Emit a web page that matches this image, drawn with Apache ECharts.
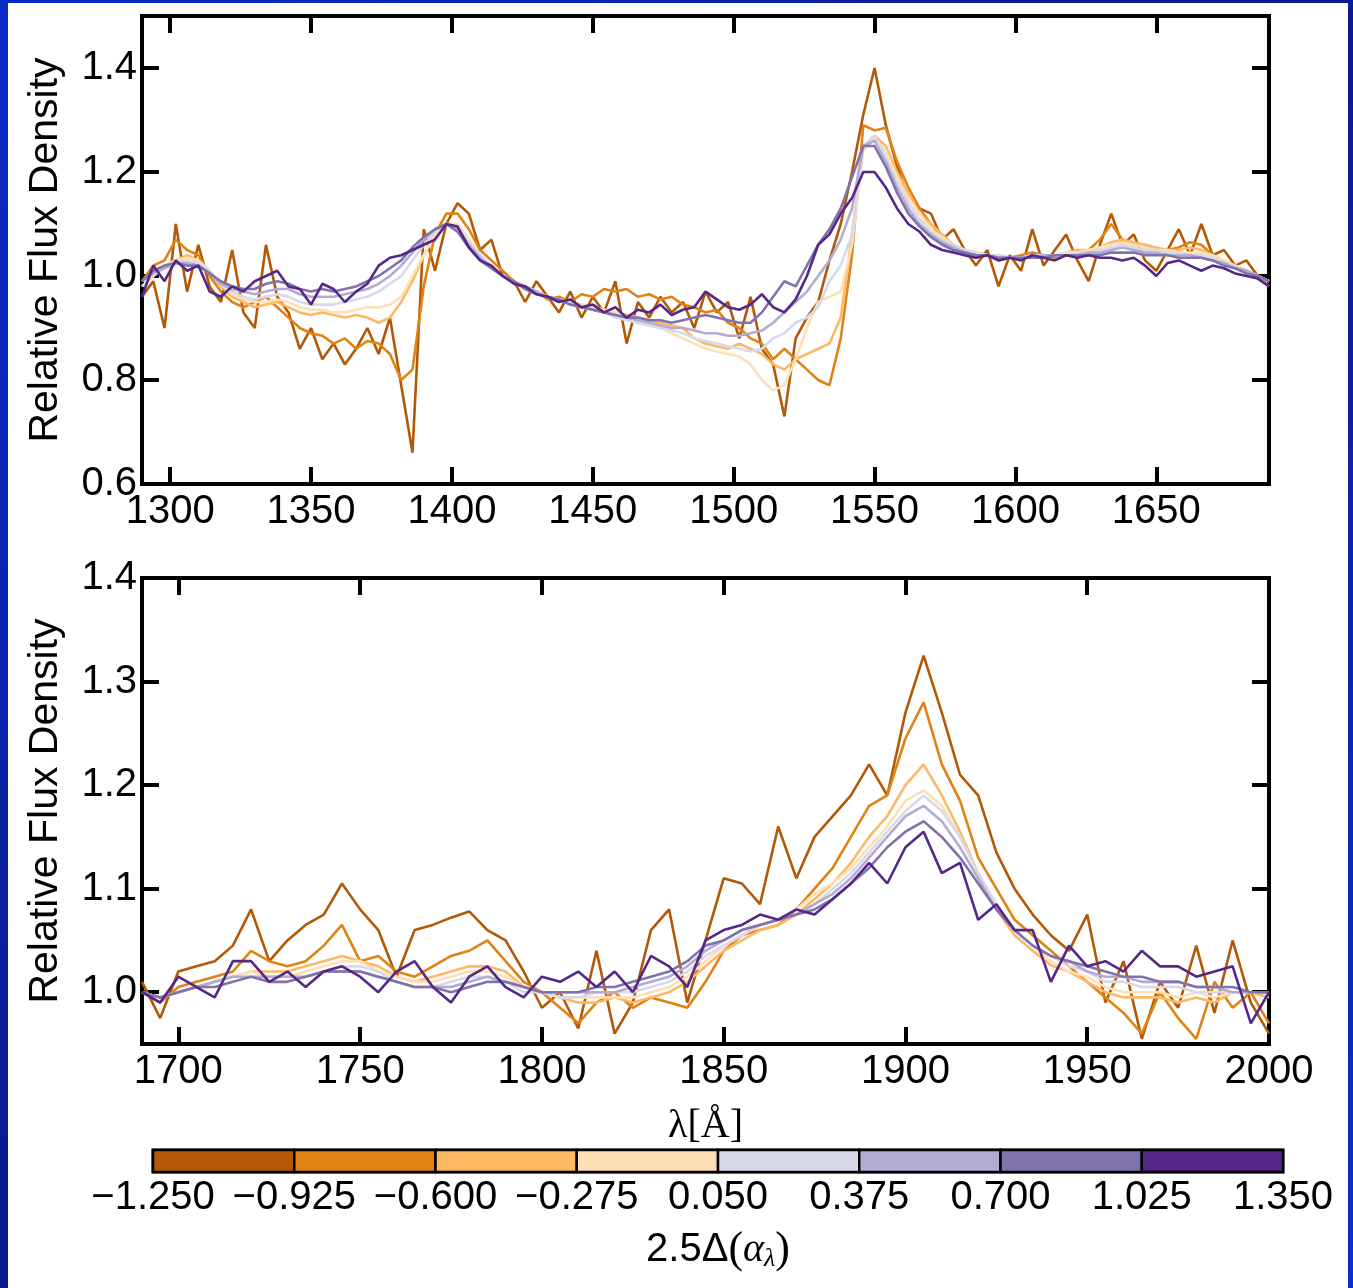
<!DOCTYPE html>
<html><head><meta charset="utf-8">
<script src="https://cdn.jsdelivr.net/npm/echarts@6/dist/echarts.min.js"></script>
<style>html,body{margin:0;padding:0;background:#0a22b0}#c{width:1353px;height:1288px}</style>
</head><body><div id="c"></div>
<script>
// ---------- colour classes (2.5Δ(α_λ) bins) ----------
const binColors = ['#b35806','#e08214','#fdb863','#fee0b6','#d8daeb','#b2abd2','#8073ac','#542788'];
const binEdges = [-1.25,-0.925,-0.6,-0.275,0.05,0.375,0.7,1.025,1.35];

// ---------- tick values ----------
const topTicksX = [1300,1350,1400,1450,1500,1550,1600,1650];
const topTicksY = [0.6,0.8,1.0,1.2,1.4];
const botTicksX = [1700,1750,1800,1850,1900,1950,2000];
const botTicksY = [1.0,1.1,1.2,1.3,1.4];

// ---------- top panel wavelengths (Å) ----------
const topWave = [1290,1294,1298,1302,1306,1310,1314,1318,1322,1326,
1330,1334,1338,1342,1346,1350,1354,1358,1362,1366,
1370,1374,1378,1382,1386,1390,1394,1398,1402,1406,
1410,1414,1418,1422,1426,1430,1434,1438,1442,1446,
1450,1454,1458,1462,1466,1470,1474,1478,1482,1486,
1490,1494,1498,1502,1506,1510,1514,1518,1522,1526,
1530,1534,1538,1542,1546,1550,1554,1558,1562,1566,
1570,1574,1578,1582,1586,1590,1594,1598,1602,1606,
1610,1614,1618,1622,1626,1630,1634,1638,1642,1646,
1650,1654,1658,1662,1666,1670,1674,1678,1682,1686,1690];

const top1 = [0.96,0.99,0.90,1.10,0.97,1.06,0.98,0.95,1.05,0.93,
0.90,1.06,0.96,0.93,0.86,0.90,0.84,0.87,0.83,0.86,
0.90,0.85,0.92,0.79,0.66,1.09,1.01,1.10,1.14,1.12,
1.05,1.07,1.00,0.99,0.95,0.99,0.96,0.93,0.97,0.92,
0.96,0.93,0.99,0.87,0.95,0.92,0.96,0.93,0.95,0.90,
0.97,0.93,0.95,0.88,0.96,0.86,0.83,0.73,0.88,0.92,
0.95,1.03,1.10,1.20,1.31,1.40,1.29,1.21,1.15,1.13,
1.12,1.07,1.09,1.05,1.02,1.05,0.98,1.04,1.01,1.09,
1.02,1.05,1.08,1.03,0.99,1.06,1.12,1.06,1.08,1.03,
1.01,1.05,1.09,1.04,1.10,1.04,1.05,1.02,1.03,1.00,0.99];
const top2 = [0.99,1.02,1.03,1.07,1.05,1.04,1.00,0.97,0.95,0.94,
0.95,0.96,0.94,0.92,0.90,0.89,0.885,0.87,0.88,0.86,
0.875,0.87,0.85,0.80,0.82,0.98,1.08,1.12,1.12,1.09,
1.05,1.03,1.01,0.99,0.975,0.97,0.955,0.96,0.95,0.965,
0.96,0.975,0.97,0.975,0.96,0.965,0.955,0.96,0.945,0.94,
0.93,0.935,0.91,0.90,0.88,0.87,0.84,0.86,0.84,0.82,
0.80,0.79,0.88,1.04,1.29,1.28,1.285,1.22,1.17,1.13,
1.10,1.075,1.06,1.04,1.035,1.04,1.03,1.035,1.04,1.045,
1.04,1.035,1.045,1.04,1.05,1.07,1.10,1.07,1.06,1.055,
1.05,1.05,1.055,1.065,1.06,1.04,1.025,1.02,1.01,1.00,0.98];
const top3 = [0.98,1.00,1.02,1.03,1.04,1.03,1.01,0.98,0.96,0.95,
0.94,0.945,0.95,0.94,0.93,0.925,0.93,0.925,0.92,0.925,
0.92,0.91,0.92,0.95,0.99,1.04,1.08,1.10,1.10,1.07,
1.04,1.02,1.00,0.99,0.98,0.97,0.96,0.955,0.95,0.945,
0.94,0.935,0.93,0.925,0.92,0.915,0.91,0.905,0.90,0.88,
0.87,0.865,0.86,0.87,0.86,0.85,0.83,0.82,0.84,0.85,
0.86,0.87,0.92,1.08,1.25,1.27,1.25,1.20,1.16,1.12,
1.10,1.08,1.06,1.05,1.045,1.04,1.04,1.035,1.035,1.04,
1.04,1.04,1.045,1.05,1.05,1.055,1.065,1.07,1.065,1.06,
1.055,1.05,1.05,1.055,1.05,1.04,1.03,1.02,1.01,1.00,0.99];
const top4 = [0.98,1.00,1.02,1.03,1.035,1.03,1.01,0.985,0.965,0.955,
0.95,0.95,0.955,0.95,0.94,0.935,0.935,0.93,0.93,0.935,
0.94,0.94,0.945,0.96,1.00,1.04,1.08,1.10,1.10,1.07,
1.04,1.02,1.00,0.99,0.98,0.97,0.96,0.955,0.95,0.945,
0.94,0.935,0.93,0.92,0.91,0.905,0.90,0.89,0.88,0.87,
0.86,0.855,0.85,0.845,0.83,0.80,0.78,0.79,0.84,0.90,
0.95,0.96,0.97,1.06,1.24,1.265,1.24,1.19,1.15,1.12,
1.09,1.075,1.06,1.05,1.045,1.04,1.04,1.035,1.035,1.04,
1.04,1.04,1.045,1.045,1.05,1.055,1.06,1.065,1.06,1.055,
1.05,1.05,1.045,1.045,1.045,1.04,1.03,1.02,1.01,1.00,0.99];
const top5 = [0.98,1.00,1.015,1.025,1.03,1.025,1.01,0.985,0.97,0.96,
0.955,0.96,0.965,0.96,0.95,0.945,0.945,0.945,0.95,0.955,
0.96,0.97,0.985,1.00,1.03,1.06,1.085,1.10,1.095,1.065,
1.04,1.02,1.00,0.99,0.98,0.97,0.96,0.955,0.95,0.94,
0.935,0.93,0.92,0.915,0.91,0.905,0.90,0.895,0.89,0.88,
0.875,0.87,0.865,0.86,0.855,0.86,0.88,0.89,0.91,0.92,
0.94,0.99,1.02,1.08,1.25,1.27,1.23,1.18,1.14,1.11,
1.085,1.07,1.06,1.05,1.045,1.04,1.04,1.035,1.035,1.04,
1.04,1.04,1.04,1.045,1.045,1.05,1.055,1.06,1.055,1.05,
1.05,1.045,1.045,1.04,1.04,1.035,1.025,1.02,1.01,1.00,0.99];
const top6 = [0.99,1.005,1.015,1.025,1.025,1.02,1.005,0.985,0.975,0.97,
0.965,0.97,0.975,0.975,0.965,0.96,0.96,0.96,0.965,0.97,
0.975,0.985,1.00,1.02,1.045,1.07,1.09,1.10,1.09,1.06,
1.035,1.015,1.00,0.99,0.98,0.97,0.96,0.955,0.945,0.94,
0.935,0.93,0.925,0.92,0.915,0.91,0.905,0.90,0.90,0.895,
0.89,0.89,0.885,0.885,0.89,0.895,0.91,0.93,0.95,0.97,
1.00,1.03,1.07,1.13,1.25,1.26,1.22,1.17,1.13,1.10,
1.08,1.065,1.055,1.045,1.04,1.04,1.035,1.035,1.035,1.035,
1.04,1.04,1.04,1.04,1.045,1.045,1.05,1.055,1.05,1.045,
1.045,1.04,1.04,1.04,1.035,1.03,1.025,1.015,1.01,1.00,0.99];
const top7 = [0.99,1.01,1.02,1.025,1.02,1.02,1.005,0.99,0.98,0.975,
0.975,0.985,0.99,0.985,0.975,0.97,0.975,0.97,0.975,0.98,
0.99,1.00,1.015,1.03,1.055,1.075,1.09,1.10,1.085,1.055,
1.03,1.015,1.00,0.99,0.975,0.965,0.96,0.955,0.945,0.94,
0.935,0.93,0.925,0.92,0.92,0.915,0.915,0.91,0.915,0.92,
0.925,0.92,0.915,0.91,0.91,0.93,0.96,0.99,0.98,1.02,
1.06,1.09,1.13,1.19,1.25,1.25,1.21,1.16,1.12,1.095,
1.075,1.06,1.05,1.045,1.04,1.04,1.035,1.035,1.035,1.035,
1.035,1.04,1.04,1.04,1.04,1.04,1.045,1.045,1.045,1.04,
1.04,1.04,1.035,1.035,1.035,1.03,1.02,1.015,1.005,1.00,0.99];
const top8 = [0.96,1.02,0.99,1.03,1.01,1.02,0.97,0.96,0.98,0.97,
0.99,1.00,1.01,0.98,0.975,0.945,0.985,0.975,0.95,0.97,
0.985,1.02,1.035,1.04,1.05,1.06,1.07,1.10,1.095,1.055,
1.03,1.02,1.00,0.985,0.98,0.965,0.96,0.95,0.955,0.94,
0.945,0.93,0.94,0.92,0.935,0.93,0.945,0.925,0.935,0.94,
0.97,0.955,0.94,0.935,0.945,0.965,0.94,0.93,0.955,1.00,
1.06,1.08,1.12,1.15,1.20,1.20,1.17,1.13,1.10,1.085,
1.06,1.05,1.045,1.04,1.035,1.04,1.03,1.035,1.03,1.04,
1.035,1.03,1.04,1.035,1.04,1.035,1.035,1.03,1.035,1.02,
1.00,1.025,1.03,1.02,1.01,1.02,1.015,1.005,1.00,0.995,0.98];

// ---------- bottom panel wavelengths (Å) ----------
const botWave = [1690,1695,1700,1705,1710,1715,1720,1725,1730,1735,
1740,1745,1750,1755,1760,1765,1770,1775,1780,1785,
1790,1795,1800,1805,1810,1815,1820,1825,1830,1835,
1840,1845,1850,1855,1860,1865,1870,1875,1880,1885,
1890,1895,1900,1905,1910,1915,1920,1925,1930,1935,
1940,1945,1950,1955,1960,1965,1970,1975,1980,1985,
1990,1995,2000];

const bot1 = [1.01,0.975,1.02,1.025,1.03,1.045,1.08,1.03,1.05,1.065,
1.075,1.105,1.08,1.06,1.015,1.06,1.065,1.072,1.078,1.06,
1.05,1.02,0.985,1.0,0.965,1.04,0.96,0.99,1.06,1.08,
0.99,1.05,1.11,1.105,1.085,1.16,1.11,1.15,1.17,1.19,
1.22,1.19,1.27,1.325,1.27,1.21,1.19,1.135,1.10,1.075,
1.055,1.04,1.075,0.99,1.03,0.955,1.01,0.985,1.045,0.98,
1.05,0.99,0.96];
const bot2 = [1.0,0.99,1.005,1.01,1.015,1.02,1.04,1.03,1.025,1.03,
1.045,1.065,1.03,1.035,1.02,1.015,1.025,1.035,1.04,1.05,
1.03,1.01,1.0,0.985,0.97,0.99,1.0,0.985,0.995,0.99,
0.985,1.01,1.04,1.055,1.06,1.065,1.08,1.10,1.12,1.15,
1.18,1.19,1.245,1.28,1.22,1.185,1.13,1.10,1.07,1.055,
1.04,1.025,1.01,0.995,0.98,0.96,1.0,0.975,0.955,1.01,
0.985,1.0,0.97];
const bot3 = [1.0,0.995,1.0,1.005,1.01,1.015,1.02,1.02,1.02,1.025,
1.03,1.035,1.03,1.025,1.015,1.01,1.015,1.02,1.025,1.025,
1.02,1.005,1.0,0.995,0.99,0.99,0.995,0.99,0.995,1.0,
1.01,1.025,1.04,1.05,1.06,1.065,1.075,1.09,1.105,1.125,
1.15,1.17,1.2,1.22,1.19,1.155,1.115,1.08,1.055,1.04,
1.026,1.02,1.01,1.0,0.995,0.995,0.995,0.99,0.995,0.99,
1.0,1.0,0.995];
const bot4 = [1.0,0.995,1.0,1.005,1.01,1.015,1.02,1.015,1.015,1.02,
1.025,1.03,1.03,1.02,1.015,1.01,1.01,1.015,1.02,1.02,
1.015,1.005,1.0,0.995,0.995,0.995,0.995,0.995,1.0,1.005,
1.015,1.03,1.045,1.055,1.065,1.07,1.08,1.095,1.105,1.12,
1.14,1.16,1.185,1.195,1.18,1.15,1.115,1.085,1.06,1.045,
1.03,1.02,1.015,1.005,1.0,1.0,1.0,0.995,1.0,0.995,
1.0,1.0,1.0];
const bot5 = [1.0,0.995,1.0,1.005,1.01,1.015,1.015,1.015,1.015,1.015,
1.02,1.025,1.025,1.02,1.01,1.005,1.005,1.01,1.015,1.015,
1.01,1.0,1.0,0.995,0.995,1.0,1.0,1.0,1.005,1.01,
1.02,1.035,1.045,1.055,1.065,1.07,1.075,1.085,1.1,1.115,
1.135,1.155,1.175,1.19,1.175,1.15,1.115,1.085,1.06,1.045,
1.035,1.025,1.02,1.01,1.01,1.005,1.005,1.005,1.0,1.0,
1.0,1.0,1.0];
const bot6 = [1.0,0.995,1.0,1.005,1.01,1.015,1.015,1.015,1.015,1.015,
1.02,1.02,1.02,1.015,1.01,1.005,1.005,1.005,1.01,1.015,
1.01,1.005,1.0,1.0,1.0,1.0,1.0,1.005,1.01,1.015,
1.025,1.04,1.05,1.06,1.065,1.07,1.075,1.085,1.095,1.11,
1.13,1.15,1.17,1.18,1.165,1.14,1.11,1.08,1.06,1.045,
1.035,1.03,1.02,1.015,1.015,1.01,1.01,1.01,1.005,1.005,
1.0,1.0,1.0];
const bot7 = [1.0,0.995,1.0,1.005,1.005,1.01,1.015,1.01,1.01,1.015,
1.02,1.02,1.02,1.015,1.01,1.005,1.005,1.0,1.005,1.01,
1.01,1.005,1.0,1.0,1.0,1.005,1.005,1.01,1.015,1.02,
1.03,1.045,1.05,1.06,1.065,1.07,1.075,1.08,1.09,1.105,
1.12,1.14,1.155,1.165,1.15,1.13,1.105,1.08,1.06,1.045,
1.035,1.03,1.025,1.02,1.015,1.015,1.01,1.01,1.005,1.005,
1.005,1.0,1.0];
const bot8 = [1.0,0.99,1.015,1.005,0.995,1.03,1.03,1.01,1.02,1.005,
1.02,1.025,1.015,1.0,1.02,1.03,1.005,0.99,1.015,1.025,
1.005,0.995,1.015,1.01,1.02,1.005,1.02,1.0,1.035,1.025,
1.005,1.05,1.06,1.065,1.075,1.07,1.08,1.075,1.09,1.105,
1.125,1.105,1.14,1.155,1.115,1.125,1.07,1.085,1.06,1.06,
1.01,1.045,1.025,1.03,1.02,1.04,1.025,1.025,1.015,1.02,
1.025,0.97,1.0];

const topSeries = [top1,top2,top3,top4,top5,top6,top7,top8];
const botSeries = [bot1,bot2,bot3,bot4,bot5,bot6,bot7,bot8];

// ---------- chart ----------
const SANS = 'Liberation Sans';
const SERIF = 'Liberation Serif';
const chart = echarts.init(document.getElementById('c'), null, {renderer:'canvas'});

function xAxis(gi, min, max, ticks, pos, showLabel, extra) {
  return Object.assign({
    type:'value', gridIndex:gi, min:min, max:max, position:pos,
    axisLine:{show:false},
    axisTick:{show:true, inside:true, length:17, customValues:ticks, lineStyle:{color:'#000', width:4}},
    axisLabel:{show:showLabel, customValues:ticks, margin:8, fontSize:40, fontFamily:SANS, color:'#000',
      formatter:(v)=>String(Math.round(v))},
    splitLine:{show:false}
  }, extra || {});
}
function yAxis(gi, min, max, ticks, pos, showLabel, extra) {
  return Object.assign({
    type:'value', gridIndex:gi, min:min, max:max, position:pos,
    axisLine:{show:false},
    axisTick:{show:true, inside:true, length:17, customValues:ticks, lineStyle:{color:'#000', width:4}},
    axisLabel:{show:showLabel, customValues:ticks, margin:5, fontSize:40, fontFamily:SANS, color:'#000',
      formatter:(v)=>v.toFixed(1)},
    splitLine:{show:false}
  }, extra || {});
}

const yName = {name:'Relative Flux Density', nameLocation:'middle', nameGap:76,
  nameTextStyle:{fontSize:41, fontFamily:SANS, color:'#000'}};

const series = [];
topSeries.forEach((vals, k) => {
  series.push({type:'line', xAxisIndex:0, yAxisIndex:0, showSymbol:false, symbol:'none',
    data: topWave.map((w,i)=>[w, vals[i]]),
    lineStyle:{color:binColors[k], width:2.6}, z:2+k});
});
botSeries.forEach((vals, k) => {
  series.push({type:'line', xAxisIndex:2, yAxisIndex:2, showSymbol:false, symbol:'none',
    data: botWave.map((w,i)=>[w, vals[i]]),
    lineStyle:{color:binColors[k], width:2.6}, z:2+k});
});
// colour bar
series.push({type:'custom', xAxisIndex:4, yAxisIndex:4,
  data: binColors.map((c,i)=>[binEdges[i], binEdges[i+1], i]),
  encode:{x:[0,1]},
  renderItem:(params, api)=>{
    const s = api.coord([api.value(0), 1]);
    const e = api.coord([api.value(1), 0]);
    return {type:'rect', shape:{x:s[0], y:s[1], width:e[0]-s[0], height:e[1]-s[1]},
      style:{fill:binColors[api.value(2)], stroke:'#000', lineWidth:2.5}};
  }, z:3});

const option = {
  animation:false,
  backgroundColor: new echarts.graphic.LinearGradient(0,0,1,1,[
    {offset:0, color:'#0b2bc8'},{offset:0.5, color:'#0a1a8c'},{offset:1, color:'#0b2ed2'}]),
  graphic:[{type:'rect', silent:true, z:-10, shape:{x:8, y:3, width:1340, height:1290}, style:{fill:'#ffffff'}}],
  grid:[
    {left:142, top:16, width:1127, height:468, show:true, borderColor:'#000', borderWidth:4, backgroundColor:'transparent'},
    {left:142, top:578, width:1127, height:466, show:true, borderColor:'#000', borderWidth:4, backgroundColor:'transparent'},
    {left:153, top:1150, width:1130, height:22, show:true, borderColor:'#000', borderWidth:3, backgroundColor:'transparent'}
  ],
  xAxis:[
    xAxis(0, 1290, 1690, topTicksX, 'bottom', true),
    xAxis(0, 1290, 1690, topTicksX, 'top', false),
    xAxis(1, 1690, 2000, botTicksX, 'bottom', true, {name:'λ[Å]', nameLocation:'middle', nameGap:62,
      nameTextStyle:{fontSize:40, fontFamily:SERIF, color:'#000'}}),
    xAxis(1, 1690, 2000, botTicksX, 'top', false),
    {type:'value', gridIndex:2, min:-1.25, max:1.35, position:'bottom',
      axisLine:{show:false}, axisTick:{show:false}, splitLine:{show:false},
      axisLabel:{show:true, customValues:binEdges, margin:6, fontSize:40, fontFamily:SANS, color:'#000',
        formatter:(v)=>(v < 0 ? '\u2212' : '') + Math.abs(v).toFixed(3)},
      name:'{a|2.5Δ}{b|(}{c|α}{d|λ}{b|)}', nameLocation:'middle', nameGap:56,
      nameTextStyle:{rich:{
        a:{fontSize:40, fontFamily:SANS, color:'#000'},
        b:{fontSize:44, fontFamily:SERIF, color:'#000'},
        c:{fontSize:40, fontFamily:SERIF, fontStyle:'italic', color:'#000'},
        d:{fontSize:26, fontFamily:SERIF, fontStyle:'italic', color:'#000', verticalAlign:'bottom', padding:[14,0,0,0]}
      }}}
  ],
  yAxis:[
    yAxis(0, 0.6, 1.5, topTicksY, 'left', true, yName),
    yAxis(0, 0.6, 1.5, topTicksY, 'right', false),
    yAxis(1, 0.95, 1.4, botTicksY, 'left', true, yName),
    yAxis(1, 0.95, 1.4, botTicksY, 'right', false),
    {type:'value', gridIndex:2, min:0, max:1, show:false}
  ],
  series: series
};
chart.setOption(option);
</script>
</body></html>
